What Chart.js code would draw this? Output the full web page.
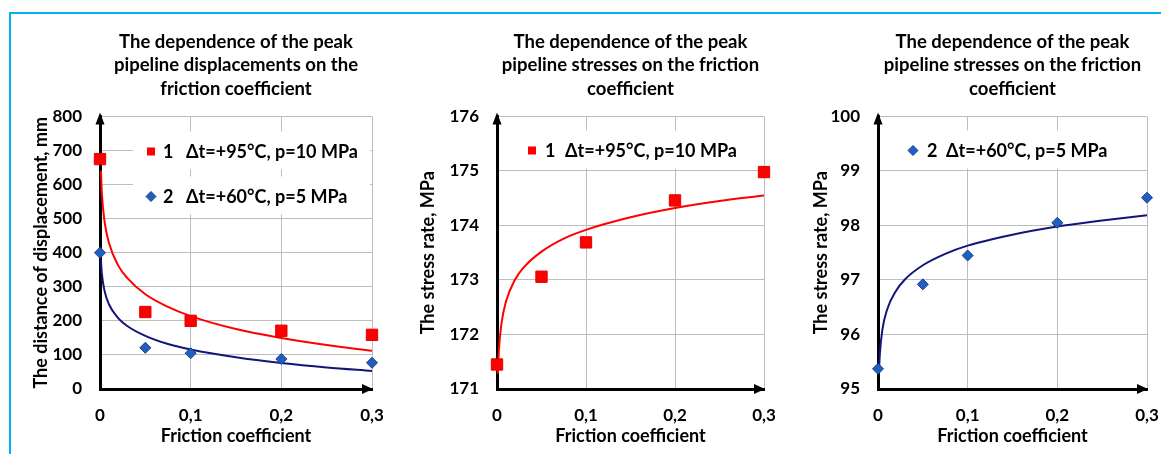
<!DOCTYPE html>
<html>
<head>
<meta charset="utf-8">
<script src="https://cdn.jsdelivr.net/npm/chart.js@4.4.1/dist/chart.umd.min.js"></script>
<style>
  body { margin: 0; background: #fff; width: 1161px; height: 454px; position: relative; overflow: hidden; }
  .frame { position: absolute; left: 9px; top: 12px; width: 1160px; height: 450px;
           border-top: 2px solid #00b0f0; border-left: 2px solid #00b0f0; }
  .box { position: absolute; top: 20px; height: 434px; }
</style>
</head>
<body>
<div class="frame"></div>
<div class="box" style="left:20px;width:370px"><canvas id="chart1"></canvas></div>
<div class="box" style="left:407px;width:370px"><canvas id="chart2"></canvas></div>
<div class="box" style="left:800px;width:361px"><canvas id="chart3"></canvas></div>
<script>
// measured points
const frictionX = [0, 0.05, 0.1, 0.2, 0.3];
const displacement1 = [675, 226, 200, 171, 159];
const displacement2 = [400, 121, 105, 88, 77];
const stress1 = [171.45, 173.06, 173.69, 174.46, 174.98];
const stress2 = [95.37, 96.92, 97.45, 98.05, 98.51];

// trend lines
const trendX = [0.001, 0.002, 0.005, 0.01, 0.02, 0.03, 0.05, 0.075, 0.1, 0.15, 0.2, 0.25, 0.3];
const dispTrend1 = [641, 577, 492, 428, 363, 326, 278, 241, 214, 176, 150, 129, 112];
const dispTrend2 = [380, 340, 288, 248, 208, 185, 156, 132, 116, 93, 76, 63, 53];
const stressTrend1 = [171.28, 171.68, 172.2, 172.6, 173.0, 173.23, 173.52, 173.76, 173.92, 174.15, 174.32, 174.45, 174.55];
const stressTrend2 = [95.28, 95.63, 96.1, 96.45, 96.8, 97.01, 97.27, 97.48, 97.63, 97.83, 97.98, 98.09, 98.19];

const xTicks = [0, 0.1, 0.2, 0.3];
const xTickLabels = ["0", "0,1", "0,2", "0,3"];

const legend1 = "Δt=+95°C, p=10 MPa";
const legend2 = "Δt=+60°C, p=5 MPa";

const RED = "#ff0000";
const NAVY = "#14147a";
const BLUE = "#1f5fbf";
const FONT = "Lato";

const pts = (xs, ys) => xs.map((x, i) => ({ x: x, y: ys[i] }));

function markers(ys, style) {
  if (style === "red") {
    return { data: pts(frictionX, ys), pointStyle: "rect", pointRadius: 8, pointHoverRadius: 8,
      backgroundColor: RED, borderColor: "#e00000", borderWidth: 1, showLine: false, clip: false, order: 0 };
  }
  return { data: pts(frictionX, ys), pointStyle: "rectRot", pointRadius: 5.5, pointHoverRadius: 5.5,
    backgroundColor: BLUE, borderColor: "#1c3c8c", borderWidth: 1, showLine: false, clip: false, order: 0 };
}

function trend(ys, color) {
  return { data: pts(trendX, ys), showLine: true, pointRadius: 0, borderColor: color, borderWidth: 2,
    cubicInterpolationMode: "monotone", clip: false, order: 1 };
}

const axisArrows = {
  id: "axisArrows",
  afterDatasetsDraw(chart) {
    const { ctx, chartArea: a } = chart;
    ctx.save();
    ctx.fillStyle = "#000";
    ctx.beginPath();
    ctx.moveTo(a.left, a.top - 4);
    ctx.lineTo(a.left - 4.5, a.top + 8);
    ctx.lineTo(a.left + 4.5, a.top + 8);
    ctx.closePath();
    ctx.fill();
    ctx.beginPath();
    ctx.moveTo(a.right + 1, a.bottom);
    ctx.lineTo(a.right - 10, a.bottom - 5);
    ctx.lineTo(a.right - 10, a.bottom + 5);
    ctx.closePath();
    ctx.fill();
    ctx.restore();
  },
};

const insideLegend = {
  id: "insideLegend",
  beforeDatasetsDraw(chart, args, opts) {
    const { ctx, chartArea: a } = chart;
    ctx.save();
    opts.items.forEach((it) => {
      const cy = a.top + it.y;
      ctx.fillStyle = "#fff";
      ctx.fillRect(a.left + opts.left, cy - 20, opts.width, 38);
      const mx = a.left + opts.marker;
      ctx.beginPath();
      if (it.style === "red") {
        ctx.fillStyle = RED;
        ctx.rect(mx - 4, cy - 4, 8, 8);
        ctx.fill();
      } else {
        ctx.fillStyle = BLUE;
        ctx.strokeStyle = "#1c3c8c";
        ctx.moveTo(mx, cy - 5);
        ctx.lineTo(mx + 5, cy);
        ctx.lineTo(mx, cy + 5);
        ctx.lineTo(mx - 5, cy);
        ctx.closePath();
        ctx.fill();
        ctx.stroke();
      }
      ctx.fillStyle = "#000";
      ctx.font = "bold 18px " + FONT;
      ctx.textBaseline = "middle";
      ctx.fillText(it.num, a.left + opts.num, cy + 1);
      ctx.fillText(it.text, a.left + opts.text, cy + 1);
    });
    ctx.restore();
  },
};

function makeChart(id, o) {
  new Chart(document.getElementById(id), {
    type: "scatter",
    data: { datasets: o.datasets },
    plugins: [axisArrows, insideLegend],
    options: {
      responsive: true,
      maintainAspectRatio: false,
      animation: false,
      events: [],
      layout: { padding: { left: 0, right: o.padRight, top: 0, bottom: 0 } },
      plugins: {
        legend: { display: false },
        tooltip: { enabled: false },
        title: {
          display: true,
          fullSize: false,
          text: o.title,
          color: "#000",
          font: { family: FONT, size: 18.5, weight: "bold", lineHeight: 1.27 },
          padding: { top: 10, bottom: 16 },
        },
        insideLegend: o.legend,
      },
      scales: {
        x: {
          type: "linear",
          min: 0,
          max: 0.3,
          afterBuildTicks: (s) => { s.ticks = xTicks.map((v) => ({ value: v })); },
          afterFit: (s) => { s.height = 65; s.paddingLeft = 0; s.paddingRight = 0; },
          grid: { color: "#bdbdbd", lineWidth: 1, drawTicks: false },
          border: { color: "#000", width: 3 },
          ticks: {
            padding: 16,
            color: "#000",
            font: { family: FONT, size: 17, weight: "bold" },
            callback: (v, i) => xTickLabels[i],
          },
          title: {
            display: true,
            text: "Friction coefficient",
            color: "#000",
            font: { family: FONT, size: 18, weight: "bold" },
            padding: { top: 1, bottom: 7 },
          },
        },
        y: {
          min: o.yMin,
          max: o.yMax,
          afterFit: (s) => { s.width = o.yWidth; },
          grid: { color: "#bdbdbd", lineWidth: 1, drawTicks: false },
          border: { color: "#000", width: 3 },
          ticks: {
            stepSize: o.yStep,
            padding: 18,
            color: "#000",
            font: { family: FONT, size: 17, weight: "bold" },
          },
          title: {
            display: true,
            text: o.yTitle,
            color: "#000",
            font: { family: FONT, size: 18, weight: "bold" },
            padding: { top: 10, bottom: 0 },
          },
        },
      },
    },
  });
}

makeChart("chart1", {
  title: ["The dependence of the peak", "pipeline displacements on the", "friction coefficient"],
  yTitle: "The distance of displacement, mm",
  yMin: 0, yMax: 800, yStep: 100, yWidth: 80, padRight: 18,
  datasets: [markers(displacement1, "red"), markers(displacement2, "blue"),
             trend(dispTrend1, RED), trend(dispTrend2, NAVY)],
  legend: { left: 33, width: 237, marker: 51, num: 63, text: 86,
    items: [{ style: "red", num: "1", text: legend1, y: 35 },
            { style: "blue", num: "2", text: legend2, y: 80 }] },
});

makeChart("chart2", {
  title: ["The dependence of the peak", "pipeline stresses on the friction", "coefficient"],
  yTitle: "The stress rate, MPa",
  yMin: 171, yMax: 176, yStep: 1, yWidth: 90, padRight: 13,
  datasets: [markers(stress1, "red"), trend(stressTrend1, RED)],
  legend: { left: 23, width: 225, marker: 35, num: 48, text: 68,
    items: [{ style: "red", num: "1", text: legend1, y: 34 }] },
});

makeChart("chart3", {
  title: ["The dependence of the peak", "pipeline stresses on the friction", "coefficient"],
  yTitle: "The stress rate, MPa",
  yMin: 95, yMax: 100, yStep: 1, yWidth: 78, padRight: 14,
  datasets: [markers(stress2, "blue"), trend(stressTrend2, NAVY)],
  legend: { left: 22, width: 220, marker: 35, num: 49, text: 68,
    items: [{ style: "blue", num: "2", text: legend2, y: 34 }] },
});
</script>
</body>
</html>
